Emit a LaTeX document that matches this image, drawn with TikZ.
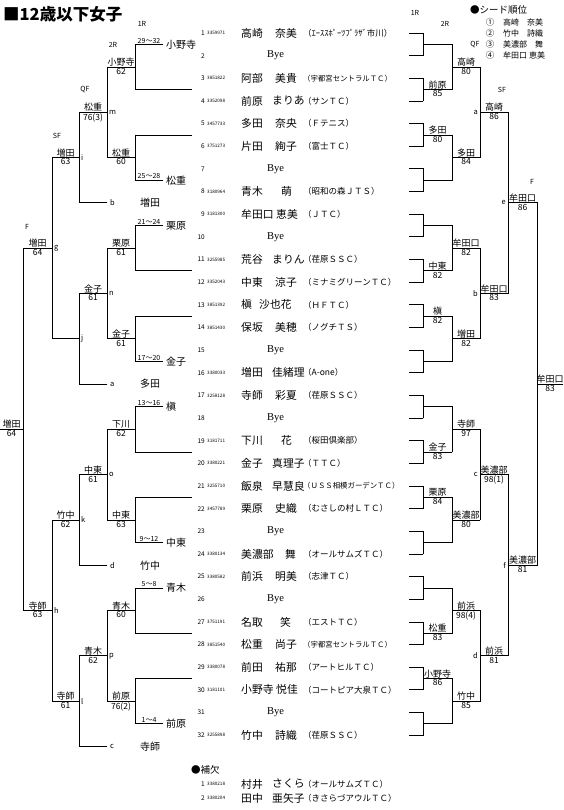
\documentclass[tikz,border=0pt]{standalone}
\usepackage{fontspec}
\setmainfont{Noto Sans CJK JP}
\newfontfamily\byefont{Liberation Serif}
\usetikzlibrary{positioning}

% row y and bracket level y (pt, counted downwards)
\newcommand\rowy[1]{33+22.65*((#1)-1)}
\newcommand\levy[2]{33+22.65*(((#2)-1)*2^(#1)+(2^(#1)-1)/2)}
\newcommand\fs[1]{\fontsize{#1}{#1}\selectfont}

\tikzset{
  every node/.style={inner sep=0pt},
  ln/.style={line width=0.8pt, line cap=rect},
  wn/.style={font=\fs{9}, anchor=south, yshift=0.5pt},
  sc/.style={font=\fs{8.5}, anchor=north, yshift=-1pt},
  rnd/.style={font=\fs{7}},
  ltr/.style={font=\fs{7.5}},
  rng/.style={font=\fs{7}, anchor=south, yshift=1pt},
  ent/.style={font=\fs{10}, anchor=west},
  num/.style={font=\fs{6.5}, anchor=east},
  pid/.style={font=\fs{4.6}, anchor=west},
  nm/.style={font=\fs{10.8}, anchor=west},
  bye/.style={font=\byefont\fs{10.5}, anchor=west},
}

\begin{document}
\begin{tikzpicture}[x=1pt, y=-1pt]
\useasboundingbox (0,0) rectangle (563,810);
\fill[white] (0,0) rectangle (563,810);

% ---------------------------------------------------------------- title and seeds
\node[font=\fs{16.5}\bfseries, anchor=west] (title) at (3,14) {■12歳以下女子};
\node[font=\fs{9.5}, anchor=west] (seedhd) at (470,10) {●シード順位};
\foreach \s/\c/\who/\y in {1/①/高崎　奈美/22, 2/②/竹中　詩織/33, 3/③/美濃部　舞/44, 4/④/牟田口 恵美/55} {
  \node[font=\fs{8.5}] (seedc\s) at (490,\y) {\c};
  \node[font=\fs{8}, anchor=west] (seedn\s) at (503,\y) {\who};
}

% ---------------------------------------------------------------- round headers
\foreach \t/\x/\y in {1R/415/13, 2R/445/24, QF/475/45, SF/502/90, F/532/182}
  \node[rnd] (hr\t) at (\x,\y) {\t};
\foreach \t/\x/\y in {1R/142/24, 2R/113/45, QF/85/90, SF/57/136, F/27/227}
  \node[rnd] (hl\t) at (\x,\y) {\t};

% ---------------------------------------------------------------- draw list
\foreach \i/\id/\sn/\gn/\gx/\cl/\cf in {
  1/3359971/高崎/奈美/275/{（ｴｰｽｽﾎﾟｰﾂﾌﾟﾗｻﾞ市川）}/8.5,
  3/3851822/阿部/美貴/275/{（宇都宮セントラルＴＣ）}/7.4,
  4/3352098/前原/まりあ/272/{（サンＴＣ）}/8.5,
  5/3457733/多田/奈央/275/{（Ｆテニス）}/8.5,
  6/3751273/片田/絢子/275/{（富士ＴＣ）}/8.5,
  8/3180964/青木/萌/281/{（昭和の森ＪＴＳ）}/8.5,
  9/3181300/牟田口/恵美/276/{（ＪＴＣ）}/8.5,
  11/3255985/荒谷/まりん/272/{（荏原ＳＳＣ）}/8.5,
  12/3352043/中東/涼子/275/{（ミナミグリーンＴＣ）}/8.5,
  13/3851392/槇/沙也花/259/{（ＨＦＴＣ）}/8.5,
  14/3851430/保坂/美穂/275/{（ノグチＴＳ）}/8.5,
  16/3380033/増田/佳緒理/272/{（A-one）}/8.5,
  17/3258128/寺師/彩夏/275/{（荏原ＳＳＣ）}/8.5,
  19/3181711/下川/花/281/{（桜田倶楽部）}/8.5,
  20/3380221/金子/真理子/272/{（ＴＴＣ）}/8.5,
  21/3255710/飯泉/早慧良/272/{（ＵＳＳ相模ガーデンＴＣ）}/7.4,
  22/3457789/栗原/史織/275/{（むさしの村ＬＴＣ）}/8.5,
  24/3380134/美濃部/舞/285/{（オールサムズＴＣ）}/8.5,
  25/3380582/前浜/明美/275/{（志津ＴＣ）}/8.5,
  27/3751191/名取/笑/280/{（エストＴＣ）}/8.5,
  28/3851540/松重/尚子/275/{（宇都宮セントラルＴＣ）}/7.4,
  29/3380078/前田/祐那/275/{（アートヒルＴＣ）}/8.5,
  30/3181101/小野寺/悦佳/276/{（コートピア大泉ＴＣ）}/8.5,
  32/3255898/竹中/詩織/275/{（荏原ＳＳＣ）}/8.5} {
  \node[num] (num\i) at (205,{\rowy{\i}}) {\i};
  \node[pid] (id\i) at (207,{\rowy{\i}}) {\id};
  \node[nm] (sn\i) at (241,{\rowy{\i}}) {\sn};
  \node[nm] (gn\i) at (\gx,{\rowy{\i}}) {\gn};
  \node[font=\fs{\cf}, anchor=west] (cl\i) at (303,{\rowy{\i}}) {\cl};
}
\foreach \i in {2,7,10,15,18,23,26,31} {
  \node[num] (num\i) at (205,{\rowy{\i}}) {\i};
  \node[bye] (bye\i) at (267,{\rowy{\i}}) {Bye};
}

% reserves
\node[font=\fs{9.5}, anchor=west] (reshd) at (191,770) {●補欠};
\foreach \r/\id/\sn/\gn/\cl/\y in {1/3380218/村井/さくら/{（オールサムズＴＣ）}/784, 2/3380204/田中/亜矢子/{（きさらづアウルＴＣ）}/798} {
  \node[num] (rnum\r) at (205,\y) {\r};
  \node[pid] (rid\r) at (207,\y) {\id};
  \node[nm] (rsn\r) at (241,\y) {\sn};
  \node[nm] (rgn\r) at (272,\y) {\gn};
  \node[font=\fs{8.5}, anchor=west] (rcl\r) at (303,\y) {\cl};
}

% ---------------------------------------------------------------- main draw (right)
\foreach \i in {1,...,32}
  \draw[ln] (409,{\rowy{\i}}) -- (423,{\rowy{\i}});
\foreach \L/\xa/\xb in {1/423/452, 2/452/480, 3/480/508, 4/508/537, 5/537/563} {
  \pgfmathtruncatemacro\nk{2^(5-\L)}
  \pgfmathtruncatemacro\Lp{\L-1}
  \foreach \k in {1,...,\nk} {
    \draw[ln] (\xa,{\levy{\Lp}{2*\k-1}}) -- (\xa,{\levy{\Lp}{2*\k}});
    \draw[ln] (\xa,{\levy{\L}{\k}}) -- (\xb,{\levy{\L}{\k}});
  }
}
\foreach \k/\w/\s in {2/前原/85, 3/多田/80, 6/中東/82, 7/槇/82, 10/金子/83, 11/栗原/84, 14/松重/83, 15/小野寺/86} {
  \node[wn] (mw1-\k) at (437.5,{\levy{1}{\k}}) {\w};
  \node[sc] (ms1-\k) at (437.5,{\levy{1}{\k}}) {\s};
}
\foreach \k/\w/\s in {1/高崎/80, 2/多田/84, 3/牟田口/82, 4/増田/82, 5/寺師/97, 6/美濃部/80, 7/前浜/98(4), 8/竹中/85} {
  \node[wn] (mw2-\k) at (466,{\levy{2}{\k}}) {\w};
  \node[sc] (ms2-\k) at (466,{\levy{2}{\k}}) {\s};
}
\foreach \k/\w/\s/\l in {1/高崎/86/a, 2/牟田口/83/b, 3/美濃部/98(1)/c, 4/前浜/81/d} {
  \node[wn] (mw3-\k) at (494,{\levy{3}{\k}}) {\w};
  \node[sc] (ms3-\k) at (494,{\levy{3}{\k}}) {\s};
  \node[ltr, anchor=east] (ml3-\k) at (478,{\levy{3}{\k}}) {\l};
}
\foreach \k/\w/\s/\l in {1/牟田口/86/e, 2/美濃部/81/f} {
  \node[wn] (mw4-\k) at (522.5,{\levy{4}{\k}}) {\w};
  \node[sc] (ms4-\k) at (522.5,{\levy{4}{\k}}) {\s};
  \node[ltr, anchor=east] (ml4-\k) at (506,{\levy{4}{\k}}) {\l};
}
\node[wn] (mw5) at (550,{\levy{5}{1}}) {牟田口};
\node[sc] (ms5) at (550,{\levy{5}{1}}) {83};

% ---------------------------------------------------------------- consolation draw (left)
\foreach \k/\rg/\who/\w/\s in {1/29～32/小野寺/小野寺/62, 2/25～28/松重/松重/60, 3/21～24/栗原/栗原/61, 4/17～20/金子/金子/61,
    5/13～16/槇/下川/62, 6/9～12/中東/中東/63, 7/5～8/青木/青木/60, 8/1～4/前原/前原/76(2)} {
  \pgfmathsetmacro\yc{\levy{2}{\k}}
  \pgfmathsetmacro\yl{\yc-22.65*(2*mod(\k,2)-1)}
  \pgfmathsetmacro\yo{2*\yc-\yl}
  \draw[ln] (135,\yc-22.65) -- (135,\yc+22.65);
  \draw[ln] (135,\yl) -- (163,\yl);
  \draw[ln] (135,\yo) -- (192,\yo);
  \draw[ln] (107,\yc) -- (135,\yc);
  \node[rng] (cr\k) at (149,\yl) {\rg};
  \node[ent] (ce\k) at (166,\yl) {\who};
  \node[wn] (cw1-\k) at (121,\yc) {\w};
  \node[sc] (cs1-\k) at (121,\yc) {\s};
}
\foreach \j/\w/\s/\l/\e/\en in {1/松重/76(3)/m/b/増田, 2/金子/61/n/a/多田, 3/中東/61/o/d/竹中, 4/青木/62/p/c/寺師} {
  \pgfmathsetmacro\ya{\levy{2}{2*\j-1}}
  \pgfmathsetmacro\yb{\levy{2}{2*\j}}
  \pgfmathsetmacro\yq{\levy{3}{\j}}
  \draw[ln] (107,\ya) -- (107,\yb);
  \draw[ln] (79,\yq) -- (107,\yq);
  \node[ltr, anchor=west] (cl2-\j) at (109,\yq) {\l};
  \node[wn] (cw2-\j) at (93,\yq) {\w};
  \node[sc] (cs2-\j) at (93,\yq) {\s};
  % QF: loser of the main draw comes in below
  \draw[ln] (79,\yq) -- (79,\yq+90.6);
  \draw[ln] (79,\yq+90.6) -- (107,\yq+90.6);
  \node[ltr, anchor=west] (cx-\j) at (110,\yq+90.6) {\e};
  \node[ent] (cxn-\j) at (140,\yq+90.6) {\en};
  \draw[ln] (52,\yb) -- (79,\yb);
}
\foreach \j/\l in {1/i, 2/j, 3/k, 4/l}
  \node[ltr, anchor=west] (cl3-\j) at (81,{\levy{2}{2*\j}}) {\l};
\foreach \j/\w/\s in {1/増田/63, 3/竹中/62, 4/寺師/61} {
  \node[wn] (cw3-\j) at (65.5,{\levy{2}{2*\j}}) {\w};
  \node[sc] (cs3-\j) at (65.5,{\levy{2}{2*\j}}) {\s};
}
\foreach \h/\w/\s/\l in {1/増田/64/g, 2/寺師/63/h} {
  \pgfmathsetmacro\ya{\levy{2}{4*\h-2}}
  \pgfmathsetmacro\yb{\levy{2}{4*\h}}
  \pgfmathsetmacro\ym{\levy{2}{4*\h-1}}
  \draw[ln] (52,\ya) -- (52,\yb);
  \draw[ln] (23,\ym) -- (52,\ym);
  \node[ltr, anchor=west] (cl4-\h) at (54,\ym) {\l};
  \node[wn] (cw4-\h) at (37.5,\ym) {\w};
  \node[sc] (cs4-\h) at (37.5,\ym) {\s};
}
\draw[ln] (23,{\levy{2}{3}}) -- (23,{\levy{2}{7}});
\draw[ln] (0,{\levy{2}{5}}) -- (23,{\levy{2}{5}});
\node[wn] (cw5) at (11.5,{\levy{2}{5}}) {増田};
\node[sc] (cs5) at (11.5,{\levy{2}{5}}) {64};

\end{tikzpicture}
\end{document}
